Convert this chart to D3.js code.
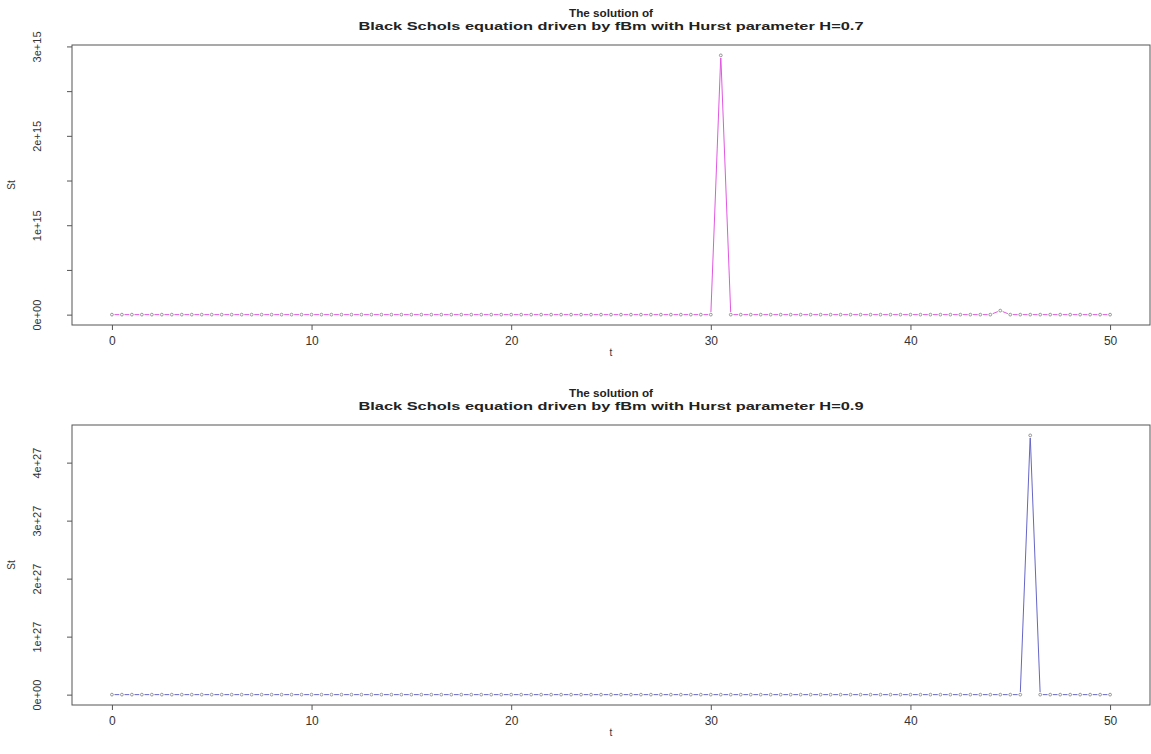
<!DOCTYPE html>
<html>
<head>
<meta charset="utf-8">
<script src="https://cdn.jsdelivr.net/npm/d3@7/dist/d3.min.js"></script>
<style>
  html, body { margin: 0; padding: 0; background: #fff; }
  svg { display: block; font-family: "Liberation Sans", Arial, sans-serif; }
</style>
</head>
<body>
<svg id="chart" width="1151" height="754"></svg>
<script>
// Time grid t = 0, 0.5, ..., 50
const tValues = [
  0, 0.5, 1, 1.5, 2, 2.5, 3, 3.5, 4, 4.5, 5, 5.5, 6, 6.5, 7, 7.5, 8, 8.5, 9, 9.5,
  10, 10.5, 11, 11.5, 12, 12.5, 13, 13.5, 14, 14.5, 15, 15.5, 16, 16.5, 17, 17.5, 18, 18.5, 19, 19.5,
  20, 20.5, 21, 21.5, 22, 22.5, 23, 23.5, 24, 24.5, 25, 25.5, 26, 26.5, 27, 27.5, 28, 28.5, 29, 29.5,
  30, 30.5, 31, 31.5, 32, 32.5, 33, 33.5, 34, 34.5, 35, 35.5, 36, 36.5, 37, 37.5, 38, 38.5, 39, 39.5,
  40, 40.5, 41, 41.5, 42, 42.5, 43, 43.5, 44, 44.5, 45, 45.5, 46, 46.5, 47, 47.5, 48, 48.5, 49, 49.5,
  50
];

// Solution path S_t for H = 0.7
const sH07 = [
  0, 0, 0, 0, 0, 0, 0, 0, 0, 0, 0, 0, 0, 0, 0, 0, 0, 0, 0, 0,
  0, 0, 0, 0, 0, 0, 0, 0, 0, 0, 0, 0, 0, 0, 0, 0, 0, 0, 0, 0,
  0, 0, 0, 0, 0, 0, 0, 0, 0, 0, 0, 0, 0, 0, 0, 0, 0, 0, 0, 0,
  0, 2.9e15, 0, 0, 0, 0, 0, 0, 0, 0, 0, 0, 0, 0, 0, 0, 0, 0, 0, 0,
  0, 0, 0, 0, 0, 0, 0, 0, 0, 4.5e13, 0, 0, 0, 0, 0, 0, 0, 0, 0, 0,
  0
];

// Solution path S_t for H = 0.9
const sH09 = [
  0, 0, 0, 0, 0, 0, 0, 0, 0, 0, 0, 0, 0, 0, 0, 0, 0, 0, 0, 0,
  0, 0, 0, 0, 0, 0, 0, 0, 0, 0, 0, 0, 0, 0, 0, 0, 0, 0, 0, 0,
  0, 0, 0, 0, 0, 0, 0, 0, 0, 0, 0, 0, 0, 0, 0, 0, 0, 0, 0, 0,
  0, 0, 0, 0, 0, 0, 0, 0, 0, 0, 0, 0, 0, 0, 0, 0, 0, 0, 0, 0,
  0, 0, 0, 0, 0, 0, 0, 0, 0, 0, 0, 0, 4.47e27, 0, 0, 0, 0, 0, 0, 0,
  0
];

const xTicks = [0, 10, 20, 30, 40, 50];
const xTickLabels = ["0", "10", "20", "30", "40", "50"];

const yTicksH07 = [0, 5e14, 1e15, 1.5e15, 2e15, 2.5e15, 3e15];
const yLabelsH07 = ["0e+00", "", "1e+15", "", "2e+15", "", "3e+15"];

const yTicksH09 = [0, 1e27, 2e27, 3e27, 4e27];
const yLabelsH09 = ["0e+00", "1e+27", "2e+27", "3e+27", "4e+27"];

const panels = [
  { values: sH07, hurst: "0.7", yTicks: yTicksH07, yLabels: yLabelsH07,
    color: "#e058e0", top: 45, bottom: 325, titleY: 17 },
  { values: sH09, hurst: "0.9", yTicks: yTicksH09, yLabels: yLabelsH09,
    color: "#6666c6", top: 425, bottom: 705, titleY: 397 }
];

const svg = d3.select("#chart");
const left = 72, right = 1150;
const axisColor = "#555";
const textColor = "#333";

panels.forEach(p => {
  const g = svg.append("g");
  const xExt = d3.extent(tValues);
  const xPad = (xExt[1] - xExt[0]) * 0.04;
  const x = d3.scaleLinear().domain([xExt[0] - xPad, xExt[1] + xPad]).range([left, right]);
  const yExt = d3.extent(p.values);
  const yPad = (yExt[1] - yExt[0]) * 0.04;
  const y = d3.scaleLinear().domain([yExt[0] - yPad, yExt[1] + yPad]).range([p.bottom, p.top]);

  // Plot frame
  g.append("rect")
    .attr("x", left).attr("y", p.top)
    .attr("width", right - left).attr("height", p.bottom - p.top)
    .attr("fill", "none").attr("stroke", axisColor).attr("stroke-width", 1);

  // x axis
  const xAxis = d3.axisBottom(x).tickValues(xTicks)
    .tickFormat((d, i) => xTickLabels[i]).tickSize(5).tickPadding(6);
  const gx = g.append("g").attr("transform", `translate(0,${p.bottom})`).call(xAxis);
  gx.select(".domain").remove();
  gx.selectAll("line").attr("stroke", axisColor);
  gx.selectAll("text").attr("font-size", 12).attr("fill", textColor);

  // y axis, labels parallel to the axis
  const yAxis = d3.axisLeft(y).tickValues(p.yTicks)
    .tickFormat((d, i) => p.yLabels[i]).tickSize(5).tickPadding(0);
  const gy = g.append("g").attr("transform", `translate(${left},0)`).call(yAxis);
  gy.select(".domain").remove();
  gy.selectAll("line").attr("stroke", axisColor);
  gy.selectAll("text")
    .attr("font-size", 11).attr("fill", textColor)
    .attr("text-anchor", "middle")
    .attr("x", 0).attr("y", 0).attr("dy", 0)
    .attr("transform", "translate(-31,0) rotate(-90)");

  // Axis titles
  g.append("text").attr("x", (left + right) / 2).attr("y", p.bottom + 31)
    .attr("text-anchor", "middle").attr("font-size", 10).attr("fill", textColor).text("t");
  g.append("text")
    .attr("transform", `translate(15,${(p.top + p.bottom) / 2}) rotate(-90)`)
    .attr("text-anchor", "middle").attr("font-size", 10).attr("fill", textColor).text("St");

  // Main title
  g.append("text").attr("x", (left + right) / 2).attr("y", p.titleY)
    .attr("text-anchor", "middle").attr("font-size", 11).attr("font-weight", "bold")
    .attr("fill", "#222")
    .attr("textLength", 84).attr("lengthAdjust", "spacingAndGlyphs")
    .text("The solution of");
  g.append("text").attr("x", (left + right) / 2).attr("y", p.titleY + 13)
    .attr("text-anchor", "middle").attr("font-size", 11).attr("font-weight", "bold")
    .attr("fill", "#222")
    .attr("textLength", 505).attr("lengthAdjust", "spacingAndGlyphs")
    .text(`Black Schols equation driven by fBm with Hurst parameter H=${p.hurst}`);

  // Line segments between points, with a small gap around each point
  const pts = tValues.map((t, i) => [x(t), y(p.values[i])]);
  const gap = 2.6;
  const segs = [];
  for (let i = 0; i < pts.length - 1; i++) {
    const [x0, y0] = pts[i], [x1, y1] = pts[i + 1];
    const dx = x1 - x0, dy = y1 - y0, len = Math.hypot(dx, dy);
    if (len <= 2 * gap) continue;
    const ux = dx / len, uy = dy / len;
    segs.push([x0 + ux * gap, y0 + uy * gap, x1 - ux * gap, y1 - uy * gap]);
  }
  g.append("g").selectAll("line").data(segs).join("line")
    .attr("x1", d => d[0]).attr("y1", d => d[1])
    .attr("x2", d => d[2]).attr("y2", d => d[3])
    .attr("stroke", p.color).attr("stroke-width", 1);

  // Point markers
  g.append("g").selectAll("circle").data(pts).join("circle")
    .attr("cx", d => d[0]).attr("cy", d => d[1]).attr("r", 1.4)
    .attr("fill", "none").attr("stroke", "#8a8a8a").attr("stroke-width", 0.9);
});
</script>
</body>
</html>
